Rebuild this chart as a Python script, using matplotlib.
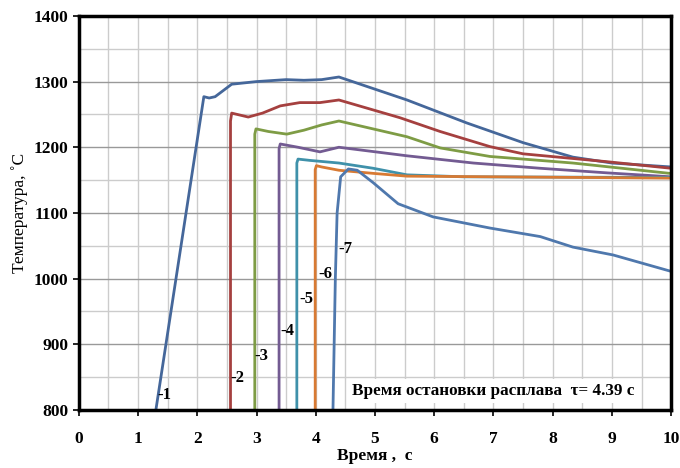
import numpy as np
import matplotlib
matplotlib.use("Agg")
import matplotlib.pyplot as plt
from matplotlib.ticker import MultipleLocator

# Curve data (time, s ; temperature, C)
t1 = [1.30, 2.11, 2.20, 2.30, 2.58, 3.00, 3.50, 3.80, 4.10, 4.39, 5.54, 6.55, 7.50, 8.34, 9.00, 10.0]
T1 = [800, 1277, 1275, 1277, 1296, 1300, 1303, 1302, 1303, 1307, 1272, 1237, 1207, 1185, 1176, 1170]

t2 = [2.56, 2.56, 2.58, 2.86, 3.10, 3.40, 3.73, 4.07, 4.39, 5.42, 6.10, 6.94, 7.50, 8.92, 10.0]
T2 = [800, 1240, 1252, 1246, 1252, 1263, 1268, 1268, 1272, 1245, 1224, 1201, 1190, 1178, 1168]

t3 = [2.97, 2.97, 2.99, 3.20, 3.51, 3.80, 4.10, 4.39, 5.54, 6.10, 6.94, 8.34, 10.0]
T3 = [800, 1220, 1228, 1224, 1220, 1226, 1234, 1240, 1216, 1199, 1186, 1176, 1160]

t4 = [3.38, 3.38, 3.40, 3.70, 4.07, 4.39, 5.54, 6.66, 7.79, 8.92, 10.0]
T4 = [800, 1198, 1205, 1200, 1193, 1200, 1187, 1176, 1168, 1161, 1155]

t5 = [3.68, 3.68, 3.70, 3.90, 4.39, 4.97, 5.54, 6.50, 10.0]
T5 = [800, 1176, 1182, 1180, 1176, 1168, 1158, 1155, 1154]

t6 = [3.99, 3.99, 4.01, 4.10, 4.39, 5.00, 5.54, 10.0]
T6 = [800, 1166, 1172, 1170, 1165, 1160, 1156, 1153]

t7 = [4.29, 4.33, 4.36, 4.42, 4.55, 4.70, 4.97, 5.39, 5.98, 6.94, 7.79, 8.34, 9.02, 10.0]
T7 = [800, 1000, 1100, 1155, 1167, 1165, 1146, 1114, 1094, 1077, 1064, 1048, 1036, 1011]

curves = [(t1, T1), (t2, T2), (t3, T3), (t4, T4), (t5, T5), (t6, T6), (t7, T7)]
colors = ["#45679a", "#a5403f", "#7e9c45", "#735b92", "#3f91aa", "#d87a33", "#4f78ad"]

# curve labels "-1" ... "-7"
label_names = ["-1", "-2", "-3", "-4", "-5", "-6", "-7"]
label_x = [1.32, 2.56, 2.96, 3.41, 3.72, 4.04, 4.38]
label_y = [823, 848, 882, 921, 969, 1007, 1045]

xticks = [0, 1, 2, 3, 4, 5, 6, 7, 8, 9, 10]
yticks = [800, 900, 1000, 1100, 1200, 1300, 1400]

plt.rcParams["font.family"] = ["Liberation Serif", "DejaVu Serif"]

fig = plt.figure(figsize=(6.8, 4.68), dpi=100)
ax = fig.add_axes([0.116, 0.124, 0.871, 0.842])

# grid: light verticals every 0.5, light horizontals every 50, darker every 100
ax.xaxis.set_minor_locator(MultipleLocator(0.5))
ax.yaxis.set_minor_locator(MultipleLocator(50))
ax.grid(which="minor", color="#cccccc", linewidth=1.0)
ax.grid(which="major", axis="x", color="#cccccc", linewidth=1.0)
ax.grid(which="major", axis="y", color="#999999", linewidth=1.0)
ax.set_axisbelow(True)

for (t, T), c in zip(curves, colors):
    ax.plot(t, T, color=c, linewidth=2.0, solid_joinstyle="round")

for name, lx, ly in zip(label_names, label_x, label_y):
    ax.text(lx, ly, name, fontsize=12, fontweight="bold", va="center", ha="left")

ax.text(7.0, 829, "Время остановки расплава  τ= 4.39 с", fontsize=12.3, fontweight="bold",
        ha="center", va="center",
        bbox=dict(facecolor="white", edgecolor="none", pad=3))

ax.set_xlim(0, 10)
ax.set_ylim(800, 1400)
ax.set_xticks(xticks)
ax.set_yticks(yticks)
ax.tick_params(which="major", labelsize=12.5, length=4, width=1.2)
ax.tick_params(which="minor", length=0)
for lab in ax.get_xticklabels() + ax.get_yticklabels():
    lab.set_fontweight("bold")
ax.tick_params(axis="x", pad=11)

for s in ax.spines.values():
    s.set_linewidth(2.5)
    s.set_color("black")

ax.set_xlabel("Время ,  с", fontsize=12.5, fontweight="bold", labelpad=1)
ax.set_ylabel("Температура, ˚С", fontsize=12.5, labelpad=4)

fig.savefig("out.png", dpi=100)
